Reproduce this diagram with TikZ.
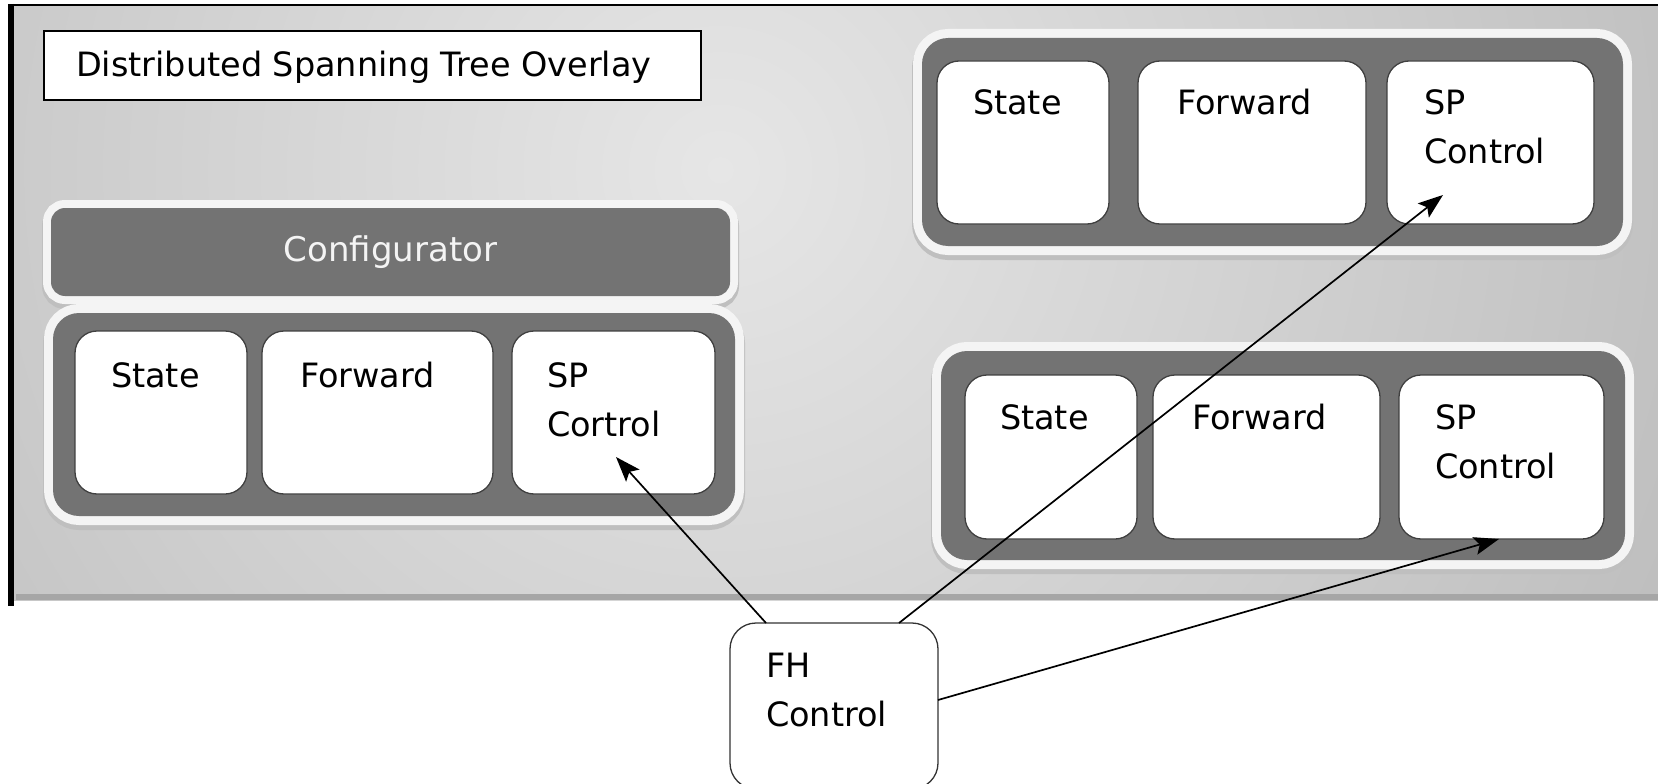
\documentclass[tikz,border=0pt]{standalone}
\usepackage{fontspec}
\setmainfont{DejaVu Sans}
\usetikzlibrary{calc,arrows.meta}
\definecolor{darkgrp}{HTML}{737373}
\definecolor{halo}{HTML}{F4F4F4}
\definecolor{panelin}{HTML}{E6E6E6}
\definecolor{panelout}{HTML}{ABABAB}
\begin{document}
\begin{tikzpicture}[x=1pt,y=-1pt,
  every node/.style={inner sep=0pt, outer sep=0pt},
  lbl/.style={anchor=base west, align=left, font=\fontsize{33.5}{49}\selectfont, text=black},
  inbox/.style={draw=black!75, line width=1.3pt, fill=white, rounded corners=22pt, anchor=north west},
  grp/.style={fill=darkgrp, rounded corners=26pt, anchor=north west,
    preaction={draw=black!25, line width=20pt, rounded corners=26pt, transform canvas={yshift=-4pt}},
    preaction={draw=halo, line width=18pt, rounded corners=26pt}},
  conn/.style={-{Stealth[length=25pt,width=18pt,inset=5pt]}, line width=1.7pt, black}
]
\useasboundingbox (0,0) rectangle (1658,784);
\fill[white] (0,0) rectangle (1658,784);
% panel
\begin{scope}
  \clip (12,6) rectangle (1658,600);
  \shade[inner color=panelin, outer color=panelout] (720,170) circle (1550);
  \fill[black!35] (16,594) rectangle (1658,600);
\end{scope}
\draw[line width=2.5pt] (8,5) -- (1658,5);
\draw[line width=6pt] (11,4) -- (11,606);
% title
\node[draw=black, line width=1.4pt, fill=white, anchor=north west, minimum width=657pt, minimum height=69pt] (title) at (44,31) {};
\node[lbl] (titletext) at ($(title.north west)+(32,46)$) {Distributed Spanning Tree Overlay};
% configurator
\node[fill=darkgrp, rounded corners=14pt, anchor=north west, minimum width=679pt, minimum height=88pt,
  preaction={draw=black!25, line width=18pt, rounded corners=14pt, transform canvas={yshift=-4pt}},
  preaction={draw=halo, line width=16pt, rounded corners=14pt}] (config) at (51,208) {};
\node[text=halo, font=\fontsize{34}{40}\selectfont] (configtext) at (config.center) {Configurator};
% group 1
\node[grp, minimum width=682pt, minimum height=203pt] (g1) at (53,313) {};
\node[inbox, minimum width=172pt, minimum height=163pt] (st1) at (75,331) {};
\node[inbox, minimum width=231pt, minimum height=163pt] (fw1) at (262,331) {};
\node[inbox, minimum width=203pt, minimum height=163pt] (sp1) at (512,331) {};
\node[lbl] at ($(st1.north west)+(36,56)$) {State};
\node[lbl] at ($(fw1.north west)+(38,56)$) {Forward};
\node[lbl] at ($(sp1.north west)+(35,105)$) {SP\\Cortrol};
% group 2
\node[grp, minimum width=701pt, minimum height=208pt] (g2) at (922,38) {};
\node[inbox, minimum width=172pt, minimum height=163pt] (st2) at (937,61) {};
\node[inbox, minimum width=228pt, minimum height=163pt] (fw2) at (1138,61) {};
\node[inbox, minimum width=207pt, minimum height=163pt] (sp2) at (1387,61) {};
\node[lbl] at ($(st2.north west)+(36,53)$) {State};
\node[lbl] at ($(fw2.north west)+(39,53)$) {Forward};
\node[lbl] at ($(sp2.north west)+(37,102)$) {SP\\Control};
% group 3
\node[grp, minimum width=684pt, minimum height=209pt] (g3) at (941,351) {};
\node[inbox, minimum width=172pt, minimum height=164pt] (st3) at (965,375) {};
\node[inbox, minimum width=227pt, minimum height=164pt] (fw3) at (1153,375) {};
\node[inbox, minimum width=205pt, minimum height=164pt] (sp3) at (1399,375) {};
\node[lbl] at ($(st3.north west)+(35,54)$) {State};
\node[lbl] at ($(fw3.north west)+(39,54)$) {Forward};
\node[lbl] at ($(sp3.north west)+(36,103)$) {SP\\Control};
% FH control
\node[draw=black!80, line width=1.3pt, fill=white, rounded corners=26pt, anchor=north west, minimum width=208pt, minimum height=166pt] (fh) at (730,623) {};
\node[lbl] at ($(fh.north west)+(36,103)$) {FH\\Control};
% connectors
\coordinate (t1) at ($(sp1.north west)+(104,126)$);
\coordinate (t2) at ($(sp2.north west)+(56,134)$);
\coordinate (t3) at ($(sp3.north west)+(100,164)$);
\draw[conn] ($(fh.north west)+(36,0)$) -- (t1);
\draw[conn] ($(fh.north west)+(169,0)$) -- (t2);
\draw[conn] ($(fh.north east)+(0,77)$) -- (t3);
\end{tikzpicture}
\end{document}
